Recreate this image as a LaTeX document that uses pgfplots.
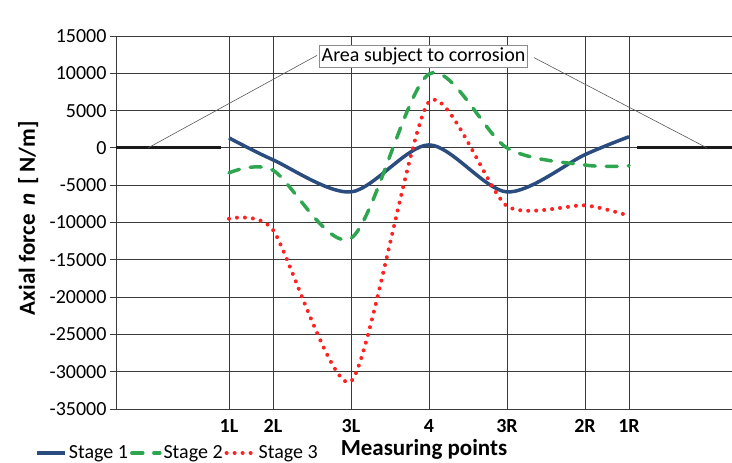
\documentclass[border=0pt]{standalone}
\usepackage{fontspec}
\setmainfont{Carlito}
\usepackage{pgfplots}
\pgfplotsset{compat=1.18}

\definecolor{stageone}{HTML}{2B4C7E}
\definecolor{stagetwo}{HTML}{2EA64F}
\definecolor{stagethree}{HTML}{FF2222}
\definecolor{gridc}{HTML}{3A3A3A}

\newcommand{\tickfont}{\fontsize{20bp}{24bp}\selectfont}
\newcommand{\labfont}{\fontsize{23bp}{27bp}\selectfont\bfseries}

\begin{document}
\begin{tikzpicture}
\path[use as bounding box] (0,0) rectangle (732bp,463bp);
\begin{axis}[
  at={(116bp,54bp)}, anchor=south west,
  scale only axis, width=616bp, height=373bp,
  xmin=0, xmax=616, ymin=-35000, ymax=15000,
  axis x line*=bottom, axis y line*=left,
  axis line style={gridc, line width=0.9bp, -},
  xtick={113,157,235,313,391,469,513},
  xticklabels={1L,2L,3L,4,3R,2R,1R},
  xticklabel style={font=\tickfont\bfseries, inner sep=4bp},
  ytick={-35000,-30000,...,15000},
  scaled y ticks=false,
  yticklabel style={font=\tickfont},
  /pgf/number format/.cd, fixed, 1000 sep={}, assume math mode=true, /pgfplots/.cd,
  major x tick style={draw=none},
  major y tick style={gridc, line width=0.9bp},
  tick align=outside, major tick length=6bp,
  xmajorgrids, ymajorgrids,
  major grid style={gridc, line width=0.9bp},
  xlabel={Measuring points},
  xlabel style={font=\labfont, at={(axis description cs:0.5,0)}, anchor=base, yshift=-46bp},
  ylabel={Axial force \hspace{0.15em}\textit{n}\hspace{0.15em} [ N/m]},
  ylabel style={font=\labfont, at={(axis description cs:-0.1315,0.512)}, anchor=base},
  legend columns=3,
  legend style={draw=none, fill=none, font=\tickfont,
    at={(axis description cs:-0.131,-0.118)}, anchor=west,
    inner sep=0pt,
    /tikz/every even column/.append style={column sep=0bp}},
  legend cell align=left,
  legend image code/.code={\draw[#1] (0bp,0bp) -- (28bp,0bp);},
]
% flat segments outside the corroded area
\addplot[black!90, line width=3bp, forget plot] coordinates {(0,0) (105,0)};
\addplot[black!90, line width=3bp, forget plot] coordinates {(521,0) (616,0)};

\addplot[stageone, line width=3.5bp, smooth, tension=0.5] coordinates
  {(113,1340) (157,-1600) (235,-5900) (313,400) (391,-5900) (469,-900) (513,1500)};
\addplot[stagetwo, line width=3.5bp, smooth, tension=0.5, line cap=round, dash pattern=on 11bp off 11bp] coordinates
  {(113,-3350) (157,-3000) (235,-12100) (313,9900) (391,0) (469,-2300) (513,-2400)};
\addplot[stagethree, line width=4bp, smooth, tension=0.4, line cap=round, dash pattern=on 0bp off 8bp] coordinates
  {(113,-9500) (157,-11000) (235,-31300) (313,6200) (391,-7800) (469,-7700) (513,-9100)};
\legend{Stage 1,Stage 2,Stage 3}

% callout
\draw[black!65, line width=0.6bp] (axis cs:32,0) -- (axis cs:201,12400);
\draw[black!65, line width=0.6bp] (axis cs:418,12100) -- (axis cs:591,0);
\node[draw=black!45, fill=white, line width=0.8bp, inner sep=2.5bp, font=\tickfont]
  at (axis cs:307.5,12265) {Area subject to corrosion};

% labels above the plot
\node[font=\tickfont\bfseries, anchor=base] at ([yshift=11bp]axis cs:113,15000) {1L};
\node[font=\tickfont\bfseries, anchor=base] at ([yshift=11bp]axis cs:157,15000) {2L};
\node[font=\tickfont\bfseries, anchor=base] at ([yshift=11bp]axis cs:235,15000) {3L};
\node[font=\tickfont\bfseries, anchor=base] at ([yshift=11bp]axis cs:313,15000) {4};
\node[font=\tickfont\bfseries, anchor=base] at ([yshift=11bp]axis cs:391,15000) {3R};
\node[font=\tickfont\bfseries, anchor=base] at ([yshift=11bp]axis cs:469,15000) {2R};
\node[font=\tickfont\bfseries, anchor=base] at ([yshift=11bp]axis cs:513,15000) {1R};
\end{axis}
\end{tikzpicture}
\end{document}
